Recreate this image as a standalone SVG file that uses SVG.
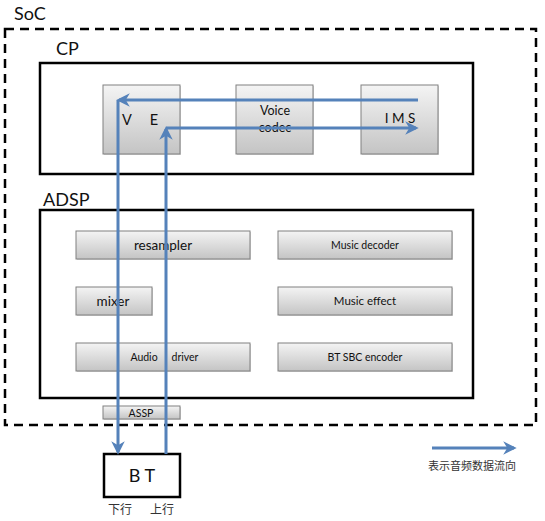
<svg xmlns="http://www.w3.org/2000/svg" width="545" height="521" viewBox="0 0 545 521">
<defs>
<linearGradient id="g" x1="0" y1="0" x2="0" y2="1">
<stop offset="0" stop-color="#f4f4f4"/>
<stop offset="1" stop-color="#c4c4c4"/>
</linearGradient>
<marker id="ah" viewBox="0 0 10 10" refX="8" refY="5" markerWidth="4.5" markerHeight="4.5" orient="auto" markerUnits="strokeWidth">
<path d="M0,0 L10,5 L0,10 L3,5 z" fill="#5582ba"/>
</marker>
<style>
text{font-family:"Lato","Liberation Sans",sans-serif;fill:#111}
.cn{font-family:"Noto Sans CJK SC",sans-serif;fill:#333}
.bx{fill:url(#g);stroke:#808080;stroke-width:1}
.sh{fill:#b0b0b0;opacity:.5}
.frame{fill:none;stroke:#000;stroke-width:2.5}
.ar{fill:none;stroke:#5582ba;stroke-width:3;marker-end:url(#ah)}
.big{font-size:18px}
</style>
</defs>
<rect width="545" height="521" fill="#fff"/>

<g id="soc">
<rect x="5" y="29" width="531" height="396" fill="none" stroke="#000" stroke-width="2.5" stroke-dasharray="9,6"/>
<text x="14" y="20" class="big">SoC</text>
</g>

<g id="cp">
<rect x="40" y="63" width="433" height="111" class="frame"/>
<text x="56" y="55" class="big">CP</text>
</g>

<g id="ve">
<rect x="104" y="86" width="77" height="69" class="sh"/>
<rect x="103" y="85" width="77" height="69" class="bx"/>
<text x="127" y="125" font-size="14.5" text-anchor="middle">V</text>
<text x="154" y="125" font-size="14.5" text-anchor="middle">E</text>
</g>
<g id="voice-codec">
<rect x="237" y="86" width="77" height="69" class="sh"/>
<rect x="236" y="85" width="77" height="69" class="bx"/>
<text x="275" y="115" font-size="12.5" text-anchor="middle">Voice</text>
<text x="275" y="132" font-size="12.5" text-anchor="middle">codec</text>
</g>
<g id="ims">
<rect x="362" y="86" width="77" height="69" class="sh"/>
<rect x="361" y="85" width="77" height="69" class="bx"/>
<text x="400" y="123" font-size="13.5" text-anchor="middle">I M S</text>
</g>

<g id="adsp">
<rect x="40" y="210" width="433" height="188" class="frame"/>
<text x="43" y="206" class="big">ADSP</text>
</g>

<g id="resampler">
<rect x="77" y="232" width="174" height="28" class="sh"/>
<rect x="76" y="231" width="174" height="28" class="bx"/>
<text x="163" y="250" font-size="13.5" text-anchor="middle">resampler</text>
</g>
<g id="music-decoder">
<rect x="279" y="232" width="174" height="28" class="sh"/>
<rect x="278" y="231" width="174" height="28" class="bx"/>
<text x="365" y="249" font-size="10.5" text-anchor="middle">Music decoder</text>
</g>
<g id="mixer">
<rect x="77" y="288" width="76" height="28" class="sh"/>
<rect x="76" y="287" width="76" height="28" class="bx"/>
<text x="113" y="306" font-size="13.5" text-anchor="middle">mixer</text>
</g>
<g id="music-effect">
<rect x="279" y="288" width="174" height="28" class="sh"/>
<rect x="278" y="287" width="174" height="28" class="bx"/>
<text x="365" y="305" font-size="11.5" text-anchor="middle">Music effect</text>
</g>
<g id="audio-driver">
<rect x="77" y="344" width="174" height="28" class="sh"/>
<rect x="76" y="343" width="174" height="28" class="bx"/>
<text x="144" y="361" font-size="10.5" text-anchor="middle">Audio</text>
<text x="185" y="361" font-size="10.5" text-anchor="middle">driver</text>
</g>
<g id="bt-sbc-encoder">
<rect x="279" y="344" width="174" height="28" class="sh"/>
<rect x="278" y="343" width="174" height="28" class="bx"/>
<text x="365" y="361" font-size="10.5" text-anchor="middle">BT SBC encoder</text>
</g>

<g id="assp">
<rect x="104" y="407" width="77" height="13" class="sh"/>
<rect x="103" y="406" width="77" height="13" class="bx"/>
<text x="141" y="416.5" font-size="10.5" text-anchor="middle">ASSP</text>
</g>

<g id="bt">
<rect x="104" y="454" width="76" height="43" fill="#fff" stroke="#000" stroke-width="2.5"/>
<text x="142" y="482" font-size="18" text-anchor="middle">B T</text>
<text x="120" y="514" font-size="12" class="cn" text-anchor="middle">下行</text>
<text x="162" y="514" font-size="12" class="cn" text-anchor="middle">上行</text>
</g>

<g id="connectors">
<path d="M418,100 H119" class="ar"/>
<path d="M118,100 V452" class="ar"/>
<path d="M166,454 V129" class="ar"/>
<path d="M166,128 H416" class="ar"/>
<path d="M432,448 H514" class="ar"/>
</g>

<g id="legend">
<text x="472" y="470" font-size="11" class="cn" text-anchor="middle">表示音频数据流向</text>
</g>
</svg>
